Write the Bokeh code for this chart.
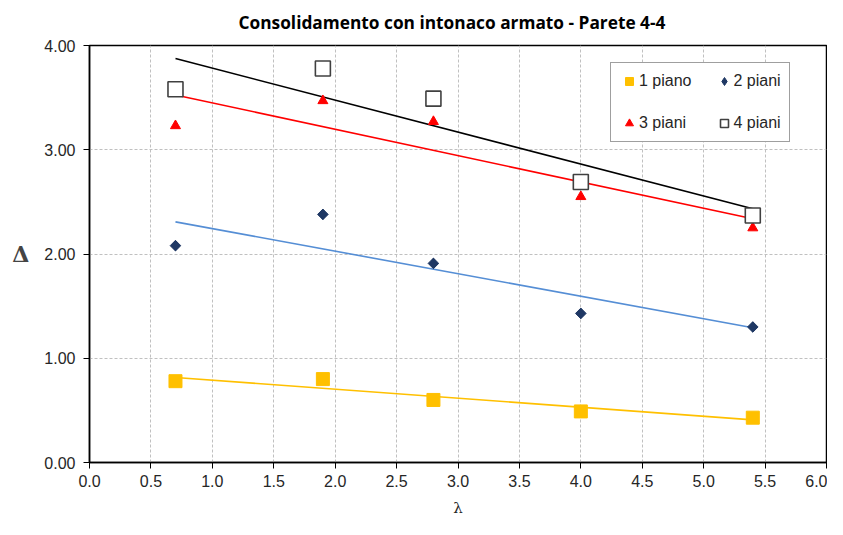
import numpy as np
from bokeh.plotting import figure
from bokeh.models import Legend, LegendItem, NumeralTickFormatter, FixedTicker, Range1d
from bokeh.embed import file_html
from bokeh.resources import INLINE

# ---- data ----
lam = [0.7, 1.9, 2.8, 4.0, 5.4]
piano1 = [0.78, 0.80, 0.60, 0.49, 0.43]
piani2 = [2.08, 2.38, 1.91, 1.43, 1.30]
piani3 = [3.23, 3.47, 3.27, 2.55, 2.25]
piani4 = [3.58, 3.78, 3.49, 2.69, 2.37]
series_names = ["1 piano", "2 piani", "3 piani", "4 piani"]
x_ticks = [0.0, 0.5, 1.0, 1.5, 2.0, 2.5, 3.0, 3.5, 4.0, 4.5, 5.0, 5.5, 6.0]
y_ticks = [0.0, 1.0, 2.0, 3.0, 4.0]
title_text = "Consolidamento con intonaco armato - Parete 4-4"
x_label = "λ"
y_label = "Δ"

p = figure(width=827, height=519, x_range=Range1d(0, 6), y_range=Range1d(0, 4),
           output_backend="svg", toolbar_location=None,
           min_border_left=89, min_border_right=1, min_border_top=45, min_border_bottom=57)
p.background_fill_color = "white"
p.border_fill_color = "white"
p.outline_line_color = "#000000"
p.outline_line_width = 1.5

p.title.text = title_text
p.title.align = "left"
p.title.vertical_align = "top"
p.title.text_font = "Open Sans"
p.title.text_font_style = "bold"
p.title.text_font_size = "17.3px"
p.title.text_color = "#000000"
p.title.standoff = 19
p.title.offset = 149

for ax in (p.xaxis[0], p.yaxis[0]):
    ax.axis_line_color = "#000000"
    ax.axis_line_width = 1.5
    ax.major_tick_line_color = "#000000"
    ax.major_tick_out = 6
    ax.major_tick_in = 0
    ax.minor_tick_line_color = None
    ax.major_label_text_font = "Liberation Sans"
    ax.major_label_text_font_size = "16px"
    ax.major_label_text_color = "#262626"

p.xaxis.ticker = FixedTicker(ticks=x_ticks)
p.yaxis.ticker = FixedTicker(ticks=y_ticks)
p.xaxis.formatter = NumeralTickFormatter(format="0.0")
p.yaxis.formatter = NumeralTickFormatter(format="0.00")
p.xaxis.major_label_standoff = 6
p.yaxis.major_label_standoff = 8

p.xaxis.axis_label = x_label
p.xaxis.axis_label_text_font = "DejaVu Serif"
p.xaxis.axis_label_text_font_style = "normal"
p.xaxis.axis_label_text_font_size = "15px"
p.xaxis.axis_label_text_color = "#262626"
p.xaxis.axis_label_standoff = 9

p.yaxis.axis_label = y_label
p.yaxis.axis_label_orientation = "horizontal"
p.yaxis.axis_label_text_font = "DejaVu Serif"
p.yaxis.axis_label_text_font_style = "bold"
p.yaxis.axis_label_text_font_size = "22px"
p.yaxis.axis_label_standoff = 12

p.xgrid.grid_line_color = "#c0c0c0"
p.xgrid.grid_line_dash = "3 2"
p.ygrid.grid_line_color = "#c0c0c0"
p.ygrid.grid_line_dash = "3 2"

xs_fit = [min(lam), max(lam)]
line_colors = ["#FFC000", "#558ED5", "#FF0000", "#000000"]
for ys, col in zip([piano1, piani2, piani3, piani4], line_colors):
    coef = np.polyfit(lam, ys, 1)
    p.line(xs_fit, list(np.polyval(coef, xs_fit)), line_color=col, line_width=1.6)

r1 = p.scatter(lam, piano1, marker="square", size=13, fill_color="#FFC000", line_color="#FFC000")
# narrow diamond underneath (fully covered) - used as legend swatch, since legend ignores angle
r2_leg = p.scatter(lam, piani2, marker="diamond", size=10, fill_color="#1F3864", line_color="#1F3864")
r2 = p.scatter(lam, piani2, marker="square", angle=np.pi / 4, size=7.5,
               fill_color="#1F3864", line_color="#1F3864")
r3 = p.scatter(lam, piani3, marker="triangle", size=10, fill_color="#FF0000", line_color="#FF0000")
r4 = p.scatter(lam, piani4, marker="square", size=15, fill_color="white", line_color="#404040", line_width=1.6)

legend_renderers = [r1, r2_leg, r3, r4]
order = [0, 2, 1, 3]  # legend is filled column by column
legend = Legend(items=[LegendItem(label=series_names[i], renderers=[legend_renderers[i]]) for i in order],
                location=(521, 320), ncols=2)
legend.label_text_font = "Liberation Sans"
legend.label_text_font_size = "16px"
legend.label_text_color = "#262626"
legend.glyph_width = 20
legend.glyph_height = 20
legend.label_height = 20
legend.label_standoff = 0
legend.spacing = 22
legend.padding = 8
legend.margin = 0
legend.border_line_color = "#404040"
legend.border_line_width = 1
legend.background_fill_color = "white"
legend.background_fill_alpha = 1
p.add_layout(legend)

open("out.html", "w").write(file_html(p, INLINE))
